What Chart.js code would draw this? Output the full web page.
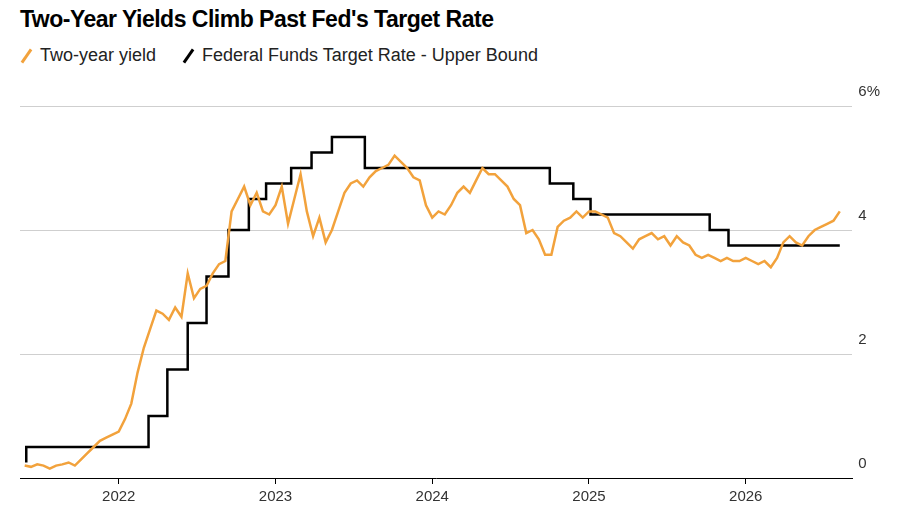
<!DOCTYPE html>
<html><head><meta charset="utf-8">
<script src="https://cdn.jsdelivr.net/npm/chart.js@4"></script>
<style>
body{margin:0;width:900px;height:510px;background:#fff;font-family:"Liberation Sans",Arial,sans-serif;position:relative;overflow:hidden}
#title{position:absolute;left:20px;top:6px;font-size:23px;font-weight:bold;color:#000;letter-spacing:-0.5px}
#legend{position:absolute;left:20px;top:45px;font-size:18px;color:#222;display:flex;gap:26px}
.it{display:flex;align-items:center}
.sw{display:inline-block;width:3px;height:16px;transform:rotate(35deg);margin:0 12px 0 5px}
#wrap{position:absolute;left:0;top:80px;width:900px;height:430px}
</style></head><body>
<div id="title">Two-Year Yields Climb Past Fed's Target Rate</div>
<div id="legend"><div class="it"><span class="sw" style="background:#f2a23c"></span>Two-year yield</div><div class="it"><span class="sw" style="background:#000"></span>Federal Funds Target Rate - Upper Bound</div></div>
<div id="wrap"><canvas id="c" width="900" height="430"></canvas></div>
<script>
const yieldStart = 2021.40, yieldStep = 0.04;
const yieldValues = [0.2,0.18,0.22,0.2,0.15,0.2,0.22,0.25,0.2,
0.3,0.4,0.5,0.6,0.65,0.7,0.75,0.95,1.2,1.7,2.1,2.4,2.7,2.65,2.55,2.75,2.6,3.3,2.9,3.05,3.1,3.3,3.45,3.5,4.3,4.5,4.7,4.4,4.6,4.3,4.25,
4.4,4.7,4.1,4.5,4.9,4.3,3.9,4.2,3.8,4.0,4.3,4.6,4.75,4.8,4.7,4.85,4.95,5.0,5.05,5.2,5.1,5.0,4.85,4.8,4.4,
4.2,4.3,4.25,4.4,4.6,4.7,4.6,4.8,5.0,4.9,4.9,4.8,4.7,4.5,4.4,3.95,4.0,3.85,3.6,3.6,4.05,4.15,4.2,4.3,4.2,
4.3,4.3,4.25,4.2,3.95,3.9,3.8,3.7,3.85,3.9,3.95,3.85,3.9,3.75,3.9,3.8,3.75,3.6,3.55,3.6,3.55,3.5,3.55,3.5,3.5,
3.55,3.5,3.45,3.5,3.4,3.55,3.8,3.9,3.8,3.75,3.9,4.0,4.05,4.1,4.15,4.3];
const fedDates = [2021.41,2022.19,2022.31,2022.44,2022.56,2022.70,2022.83,2022.94,2023.10,2023.23,2023.36,2023.57,2024.75,2024.90,2025.01,2025.77,2025.89,2026.01,2026.60];
const fedValues = [0.25,0.5,1.0,1.75,2.5,3.25,4.0,4.5,4.75,5.0,5.25,5.5,5.0,4.75,4.5,4.25,4.0,3.75,3.75];
const xTicks = [2022,2023,2024,2025,2026];
const yTicks = [0,2,4,6];

const yieldPts = yieldValues.map((v,i)=>({x:+(yieldStart+i*yieldStep).toFixed(2),y:v}));
const fedPts = fedDates.map((d,i)=>({x:d,y:fedValues[i]}));
new Chart(document.getElementById('c'),{
 type:'line',
 data:{datasets:[
  {data:yieldPts,borderColor:'#f2a23c',borderWidth:2.5,pointRadius:0,tension:0},
  {data:fedPts,borderColor:'#000',borderWidth:2.5,pointRadius:0,stepped:'after'}]},
 options:{responsive:false,animation:false,maintainAspectRatio:false,
  layout:{padding:{top:26,left:20,right:14}},
  plugins:{legend:{display:false},tooltip:{enabled:false}},
  scales:{
   x:{type:'linear',min:2021.37,max:2026.68,afterBuildTicks:a=>{a.ticks=xTicks.map(v=>({value:v}));},
      grid:{display:true,drawOnChartArea:false,drawTicks:true,tickLength:6,color:'#000'},
      border:{color:'#000',width:1},
      ticks:{color:'#333',font:{size:15},callback:v=>String(v),padding:4}},
   y:{position:'right',min:0,max:6,afterBuildTicks:a=>{a.ticks=yTicks.map(v=>({value:v}));},
      grid:{color:'#cfcfcf',drawTicks:false},border:{display:false},
      ticks:{color:'#333',font:{size:15},padding:6,labelOffset:-14,callback:v=>v===6?'6%':String(v)}}
  }}
});
</script>
</body></html>
